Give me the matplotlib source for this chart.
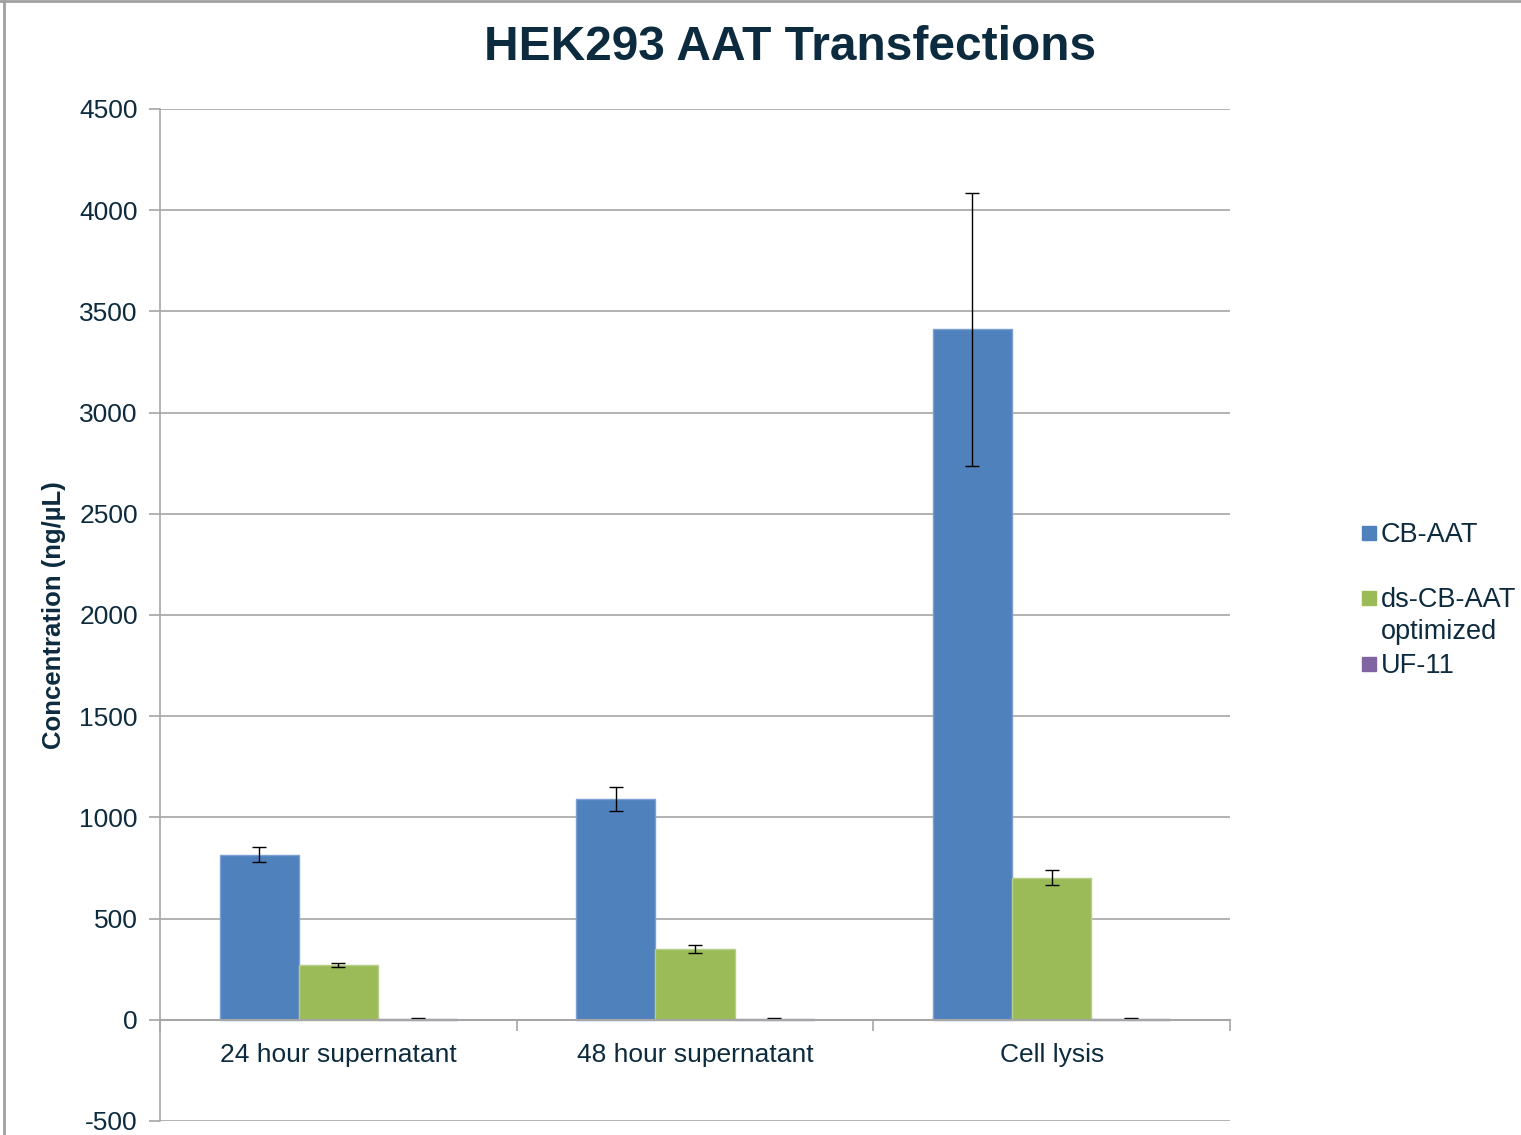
import matplotlib
matplotlib.use("Agg")
import matplotlib.pyplot as plt
import numpy as np
from matplotlib.patches import Rectangle
from matplotlib.lines import Line2D

categories = ["24 hour supernatant", "48 hour supernatant", "Cell lysis"]
series_names = ["CB-AAT", "ds-CB-AAT\noptimized", "UF-11"]
cb_aat = [815, 1092, 3412]
cb_aat_err = [37, 60, 675]
ds_cb_aat = [272, 350, 702]
ds_cb_aat_err = [10, 18, 37]
uf11 = [5, 5, 5]
uf11_err = [2, 2, 2]
yticks = [-500, 0, 500, 1000, 1500, 2000, 2500, 3000, 3500, 4000, 4500]

colors = ["#4F81BD", "#9BBB59", "#8064A2"]
edge_colors = ["#7A9FD0", "#B5CF86", "#9C86B8"]
text_color = "#0D2B3E"

plt.rcParams['font.family'] = ['Liberation Sans', 'DejaVu Sans']

fig = plt.figure(figsize=(15.21, 11.35), dpi=100)
ax = fig.add_axes([160/1521, 1 - 1121/1135, (1230-160)/1521, (1121-109)/1135])

x = np.arange(len(categories))
w = 0.222
data = [(cb_aat, cb_aat_err), (ds_cb_aat, ds_cb_aat_err), (uf11, uf11_err)]
for i, (vals, errs) in enumerate(data):
    ax.bar(x + (i - 1) * w, vals, width=w, color=colors[i], edgecolor=edge_colors[i],
           linewidth=1, zorder=3)
    ax.errorbar(x + (i - 1) * w, vals, yerr=errs, fmt='none', ecolor='black',
                elinewidth=1, capsize=5, capthick=1, zorder=4)

ax.set_xlim(-0.5, len(categories) - 0.5)
ax.set_ylim(-500, 4500)
ax.set_yticks(yticks)
ax.set_yticklabels([str(t) for t in yticks], fontsize=19, color=text_color)
ax.yaxis.grid(True, color="#A6A6A6", linewidth=1.2, zorder=0)
ax.set_axisbelow(True)

ax.spines['top'].set_visible(False)
ax.spines['right'].set_visible(False)
ax.spines['left'].set_color("#A6A6A6")
ax.spines['left'].set_linewidth(1.2)
ax.spines['bottom'].set_position(('data', 0))
ax.spines['bottom'].set_color("#A6A6A6")
ax.spines['bottom'].set_linewidth(1.5)
ax.spines['bottom'].set_zorder(5)

ax.set_xticks(x)
ax.set_xticklabels(categories, fontsize=19, color=text_color)
ax.set_xticks(np.arange(-0.5, len(categories), 1.0), minor=True)
ax.tick_params(axis='x', which='major', length=0, pad=17)
ax.tick_params(axis='x', which='minor', length=8, direction='out', color="#A6A6A6", width=1.2)
ax.tick_params(axis='y', length=8, direction='out', color="#A6A6A6", width=1.2, pad=8)

ax.set_ylabel("Concentration (ng/µL)", fontsize=18.5, fontweight='bold', color=text_color)
ax.yaxis.set_label_coords((66 - 160) / (1230 - 160), 0.5)

fig.text(790/1521, 1 - 48/1135, "HEK293 AAT Transfections", fontsize=34.5, fontweight='bold',
         color=text_color, ha='center', va='center')

# legend (manual, to reproduce spacing)
leg_y = [533, 598, 664]
for i, name in enumerate(series_names):
    yc = 1 - leg_y[i] / 1135
    fig.add_artist(Rectangle((1362/1521, yc - 7/1135), 14/1521, 14/1135,
                             transform=fig.transFigure, color=colors[i]))
    fig.text(1381/1521, yc + 11/1135, name, fontsize=19.5, color=text_color, ha='left', va='top',
             linespacing=1.28)

# frame lines on left and top
fig.add_artist(Line2D([3.5/1521, 3.5/1521], [0, 1], transform=fig.transFigure, color="#A0A0A0", linewidth=2))
fig.add_artist(Line2D([0, 1], [1 - 0.5/1135, 1 - 0.5/1135], transform=fig.transFigure, color="#A0A0A0", linewidth=2))

fig.savefig("out.png", dpi=100)
